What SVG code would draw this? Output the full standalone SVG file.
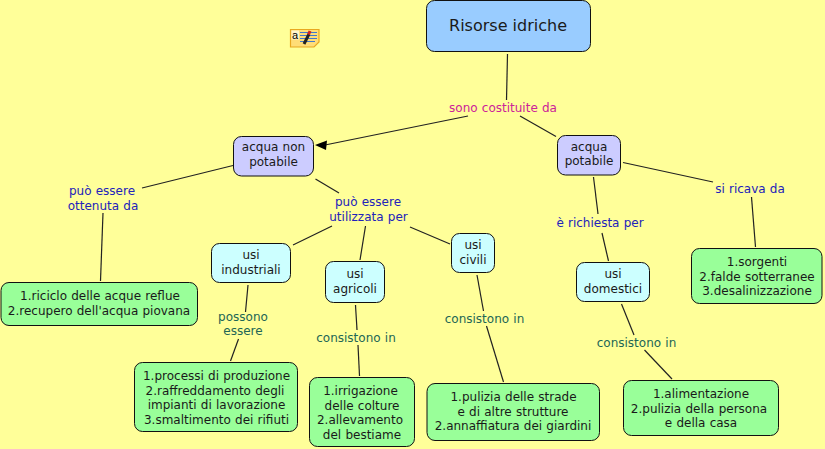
<svg xmlns="http://www.w3.org/2000/svg" width="825" height="449" viewBox="0 0 825 449">
<style>
text{font-family:"DejaVu Sans",Verdana,sans-serif;font-size:12px;text-anchor:middle;fill:#1a1a1a;word-spacing:.4px}
.n rect{stroke:#111;stroke-width:1}
.top{fill:#99ccff}.lil{fill:#ccccff}.cy{fill:#ccffff}.gr{fill:#99ff99}
.c line{stroke:#222;stroke-width:1.2}
text.mg{fill:#cc2299}text.bl{fill:#2222bb}text.te{fill:#226655}
</style>
<rect width="825" height="449" fill="#ffff99"/>
<g id="connectors" class="c">
<line x1="507.500" y1="54" x2="506.500" y2="100"/>
<line x1="468" y1="116" x2="325" y2="145"/>
<path d="M315 145L327 140.500L326 150Z" fill="#000"/>
<line x1="520" y1="116" x2="556" y2="136.500"/>
<line x1="233" y1="165.500" x2="142" y2="188"/>
<line x1="103" y1="213" x2="100.500" y2="281"/>
<line x1="315.500" y1="179" x2="339" y2="193"/>
<line x1="332" y1="226" x2="293" y2="245"/>
<line x1="365.500" y1="226" x2="360" y2="260"/>
<line x1="410" y1="227" x2="450" y2="244"/>
<line x1="248" y1="285" x2="245.500" y2="312"/>
<line x1="238.500" y1="339" x2="230.500" y2="361"/>
<line x1="355.500" y1="305" x2="357" y2="330"/>
<line x1="358" y1="345" x2="359.500" y2="376"/>
<line x1="477" y1="275" x2="483.500" y2="311"/>
<line x1="486.500" y1="326" x2="503.500" y2="382"/>
<line x1="593.500" y1="177" x2="598" y2="214"/>
<line x1="602" y1="233" x2="608.500" y2="261"/>
<line x1="621.500" y1="304" x2="634" y2="335"/>
<line x1="644.500" y1="350" x2="672" y2="379"/>
<line x1="623" y1="162.500" x2="713" y2="182"/>
<line x1="751.500" y1="197" x2="755.500" y2="247"/>
</g>
<g id="note"><path d="M290.500 29.500H319V42L314 47H290.500Z" fill="#ffdd77" stroke="#e8a820" stroke-width="1.200"/><rect x="291.500" y="30.500" width="7.500" height="9" fill="#fff6cc"/><text x="295" y="38.500" style="font-size:11px;font-family:'Liberation Sans',sans-serif;fill:#000">a</text><path d="M300 32.500H317M300 35.500H317M300 38.500H317M300 41.500H315" stroke="#4477cc" stroke-width="1"/><path d="M304 44L309 34" stroke="#222" stroke-width="3"/><path d="M308.500 34.500L310 31" stroke="#cc2222" stroke-width="3"/></g>
<g id="n-risorse" class="n"><rect class="top" x="426.500" y="0.500" width="164" height="51" rx="8"/><text x="508" y="31" style="font-size:16px;word-spacing:0">Risorse idriche</text></g>
<g id="n-nonpot" class="n"><rect class="lil" x="233.500" y="136.500" width="80" height="39.500" rx="8"/><text x="273.500" y="151">acqua non</text><text x="273.500" y="165.500">potabile</text></g>
<g id="n-pot" class="n"><rect class="lil" x="557.500" y="135.500" width="63" height="39.500" rx="8"/><text x="589" y="150.500">acqua</text><text x="589" y="165">potabile</text></g>
<g id="n-ind" class="n"><rect class="cy" x="211.500" y="243.500" width="79" height="39" rx="8"/><text x="251" y="259">usi</text><text x="251" y="273.500">industriali</text></g>
<g id="n-agr" class="n"><rect class="cy" x="325.500" y="261.500" width="59" height="41" rx="8"/><text x="355" y="278">usi</text><text x="355" y="292.500">agricoli</text></g>
<g id="n-civ" class="n"><rect class="cy" x="451.500" y="233.500" width="43" height="39" rx="8"/><text x="473" y="249">usi</text><text x="473" y="264">civili</text></g>
<g id="n-dom" class="n"><rect class="cy" x="576.500" y="262.500" width="73" height="39" rx="8"/><text x="613" y="278">usi</text><text x="613" y="293">domestici</text></g>
<g id="n-riciclo" class="n"><rect class="gr" x="1" y="282.500" width="196.500" height="43" rx="8"/><text x="100" y="300">1.riciclo delle acque reflue</text><text x="99" y="314.500">2.recupero dell'acqua piovana</text></g>
<g id="n-processi" class="n"><rect class="gr" x="134.500" y="362.500" width="163" height="69" rx="8"/><text x="216.500" y="380">1.processi di produzione</text><text x="215" y="394.500">2.raffreddamento degli</text><text x="216.500" y="409">impianti di lavorazione</text><text x="216.500" y="423.500">3.smaltimento dei rifiuti</text></g>
<g id="n-irr" class="n"><rect class="gr" x="309.500" y="377.500" width="105" height="69" rx="8"/><text x="360.500" y="395">1.irrigazione</text><text x="362" y="409.500">delle colture</text><text x="360" y="424">2.allevamento</text><text x="362" y="438.500">del bestiame</text></g>
<g id="n-pul" class="n"><rect class="gr" x="427" y="383.500" width="172.500" height="57" rx="8"/><text x="513.500" y="401">1.pulizia delle strade</text><text x="513" y="415.500">e di altre strutture</text><text x="513" y="430">2.annaffiatura dei giardini</text></g>
<g id="n-ali" class="n"><rect class="gr" x="623.500" y="380.500" width="155" height="55" rx="8"/><text x="701" y="398">1.alimentazione</text><text x="699" y="412.500">2.pulizia della persona</text><text x="701" y="427">e della casa</text></g>
<g id="n-sor" class="n"><rect class="gr" x="691.500" y="248.500" width="130.500" height="55" rx="8"/><text x="757" y="266">1.sorgenti</text><text x="757" y="280.500">2.falde sotterranee</text><text x="757" y="295">3.desalinizzazione</text></g>
<g id="labels">
<text class="mg" x="503" y="112">sono costituite da</text>
<text class="bl" x="102" y="195">può essere</text><text class="bl" x="103" y="209.500">ottenuta da</text>
<text class="bl" x="368" y="206">può essere</text><text class="bl" x="368.500" y="220.500">utilizzata per</text>
<text class="bl" x="600" y="227">è richiesta per</text>
<text class="bl" x="750" y="193">si ricava da</text>
<text class="te" x="243" y="321">possono</text><text class="te" x="243" y="335">essere</text>
<text class="te" x="356" y="342">consistono in</text>
<text class="te" x="484.500" y="323">consistono in</text>
<text class="te" x="636.500" y="347">consistono in</text>
</g>
</svg>
